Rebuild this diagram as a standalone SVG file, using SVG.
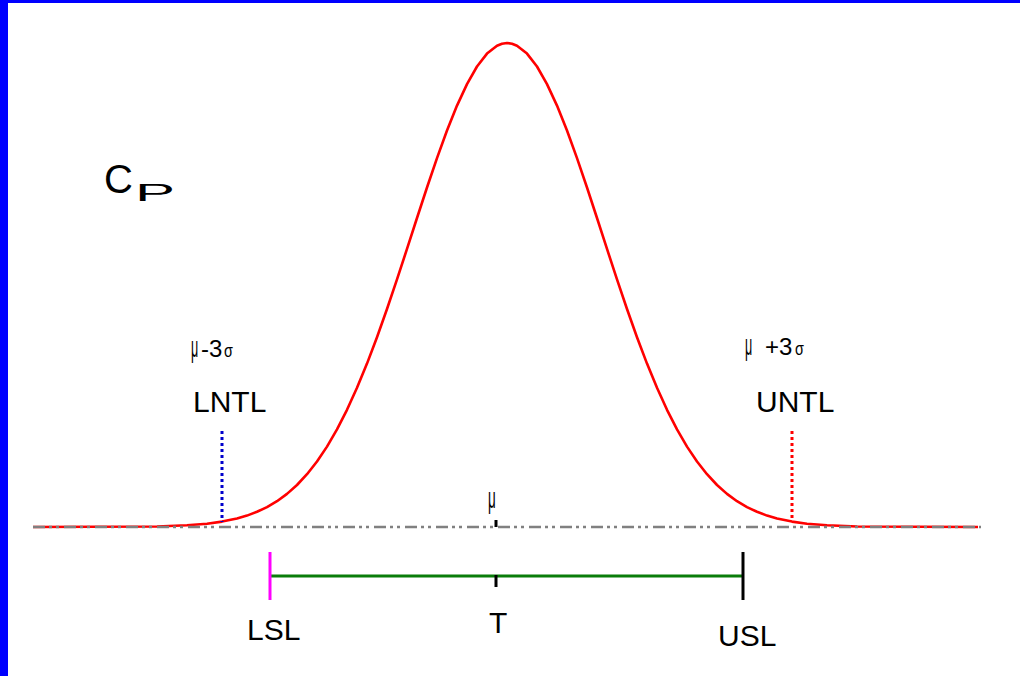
<svg xmlns="http://www.w3.org/2000/svg" width="1020" height="676" viewBox="0 0 1020 676">
<style>
.lbl{font-family:"Liberation Sans",Arial,sans-serif;fill:#000}
.base{stroke:#808080;stroke-width:2.5;fill:none;stroke-dasharray:12 4 3 4 3 5}
.dot{stroke-width:3;fill:none;stroke-dasharray:3 3}
</style>
<rect x="0" y="0" width="1020" height="676" fill="#fff"/>
<rect x="0" y="0" width="8" height="676" fill="#0000ff"/>
<rect x="0" y="0" width="1020" height="3" fill="#0000ff"/>
<g id="curve">
<polyline fill="none" stroke="#ff0000" stroke-width="2.6" stroke-linejoin="round" points="33,527 157,526.5 187,525.3 207,523.7 222,521.6 237,518.5 247,515.6 257,511.8 267,507.1 277,501.2 287,493.9 297,485.0 307,474.2 317,461.5 327,446.6 337,429.4 347,409.8 357,387.8 367,363.6 377,337.2 387,309.0 397,279.4 407,248.9 417,218.0 427,187.5 437,158.1 447,130.5 457,105.6 467,84.1 477,66.5 487,53.6 497,45.7 502,43.7 507,43 512,43.7 517,45.7 527,53.6 537,66.5 547,84.1 557,105.6 567,130.5 577,158.1 587,187.5 597,218.0 607,248.9 617,279.4 627,309.0 637,337.2 647,363.6 657,387.8 667,409.8 677,429.4 687,446.6 697,461.5 707,474.2 717,485.0 727,493.9 737,501.2 747,507.1 757,511.8 767,515.6 777,518.5 792,521.6 807,523.7 827,525.3 857,526.5 978,527"/>
</g>
<g id="connectors">
<line class="base" x1="33" y1="527" x2="981" y2="527"/>
<line class="dot" stroke="#0000cc" x1="222" y1="431" x2="222" y2="522"/>
<line class="dot" stroke="#ff0000" x1="792" y1="431" x2="792" y2="522"/>
<line stroke="#000" stroke-width="3" x1="496" y1="520" x2="496" y2="527"/>
<line stroke="#0a7d0a" stroke-width="3" x1="271" y1="576" x2="743" y2="576"/>
<line stroke="#000" stroke-width="3" x1="496" y1="575" x2="496" y2="587"/>
</g>
<g id="lsl">
<line stroke="#ff00ff" stroke-width="3" x1="270" y1="552" x2="270" y2="600"/>
<text class="lbl" x="247" y="640" font-size="30">LSL</text>
</g>
<g id="usl">
<line stroke="#000" stroke-width="3" x1="743" y1="552" x2="743" y2="600"/>
<text class="lbl" x="718" y="646" font-size="30">USL</text>
</g>
<g id="target">
<text class="lbl" x="489" y="633" font-size="30">T</text>
</g>
<g id="mean">
<text class="lbl" font-size="30" transform="translate(488,508) scale(0.45,1)">μ</text>
</g>
<g id="lntl">
<text class="lbl" font-size="30" transform="translate(191,357) scale(0.42,1)">μ</text>
<text class="lbl" x="201" y="357" font-size="24">-3</text>
<text class="lbl" font-size="18" transform="translate(224,357) scale(0.8,1)">σ</text>
<text class="lbl" x="193" y="412" font-size="30">LNTL</text>
</g>
<g id="untl">
<text class="lbl" font-size="30" transform="translate(745,355) scale(0.42,1)">μ</text>
<text class="lbl" x="765" y="355" font-size="24">+3</text>
<text class="lbl" font-size="18" transform="translate(795,355) scale(0.8,1)">σ</text>
<text class="lbl" x="756" y="412" font-size="30">UNTL</text>
</g>
<g id="title">
<text class="lbl" x="104" y="193" font-size="40">C</text>
<text class="lbl" font-size="30" transform="translate(135,201) scale(2.0,0.8)">P</text>
</g>
</svg>
